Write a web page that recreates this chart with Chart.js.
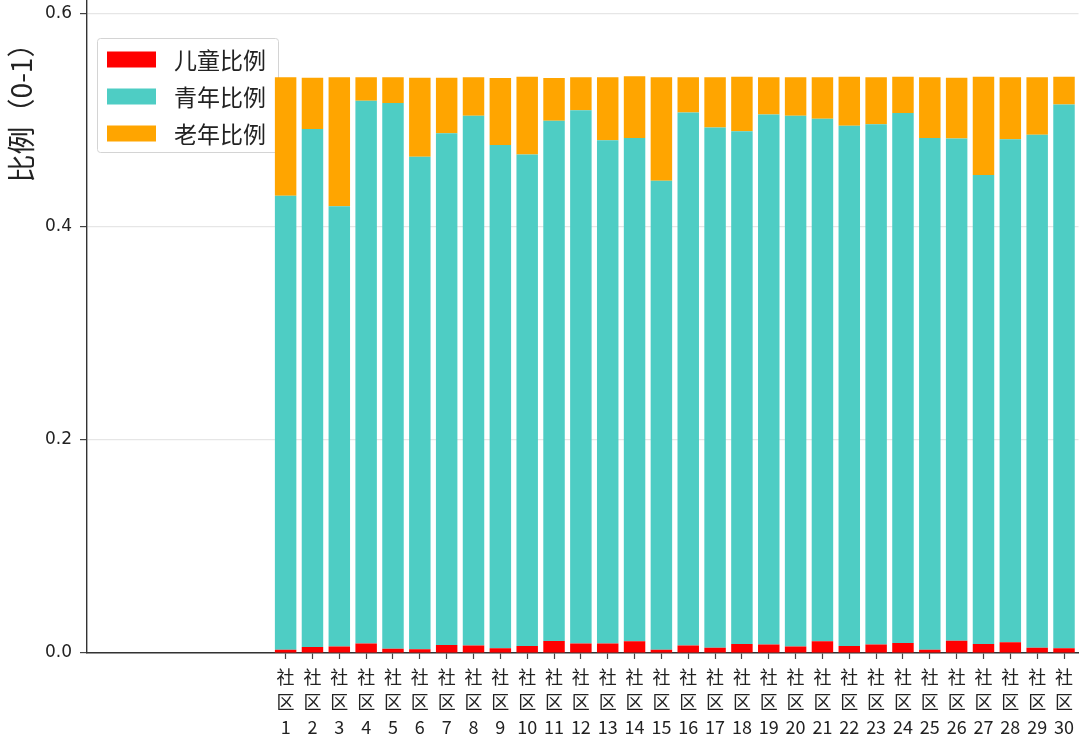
<!DOCTYPE html>
<html>
<head>
<meta charset="utf-8">
<script src="https://cdn.jsdelivr.net/npm/chart.js@4.4.1/dist/chart.umd.min.js"></script>
<style>
  html, body { margin: 0; padding: 0; background: #fff; }
  #wrap { width: 1080px; height: 742px; }
</style>
</head>
<body>
<div id="wrap"><canvas id="ratioChart" width="1080" height="742"></canvas></div>
<script>
const categories = ['社区1', '社区2', '社区3', '社区4', '社区5', '社区6', '社区7', '社区8', '社区9', '社区10',
  '社区11', '社区12', '社区13', '社区14', '社区15', '社区16', '社区17', '社区18', '社区19', '社区20',
  '社区21', '社区22', '社区23', '社区24', '社区25', '社区26', '社区27', '社区28', '社区29', '社区30'];

const childRatio = [0.003, 0.0056, 0.006, 0.009, 0.004, 0.0035, 0.0075, 0.007, 0.0044, 0.0066,
  0.0113, 0.009, 0.009, 0.011, 0.003, 0.007, 0.005, 0.0084, 0.008, 0.006,
  0.011, 0.0066, 0.008, 0.0094, 0.003, 0.0116, 0.0084, 0.010, 0.005, 0.0044];

const youthRatio = [0.426, 0.486, 0.413, 0.509, 0.512, 0.462, 0.480, 0.497, 0.472, 0.461,
  0.488, 0.500, 0.472, 0.472, 0.440, 0.500, 0.488, 0.481, 0.497, 0.498,
  0.490, 0.488, 0.488, 0.497, 0.480, 0.471, 0.440, 0.472, 0.481, 0.510];

const elderRatio = [0.111, 0.048, 0.121, 0.022, 0.024, 0.074, 0.052, 0.036, 0.063, 0.073,
  0.040, 0.031, 0.059, 0.058, 0.097, 0.033, 0.047, 0.051, 0.035, 0.036,
  0.039, 0.046, 0.044, 0.034, 0.057, 0.057, 0.092, 0.058, 0.054, 0.026];

const yTicks = [0, 0.2, 0.4, 0.6];
const yTitle = '比例（0-1）';

const colors = ['#ff0000', '#4ecdc4', '#ffa500'];

// bars sit on a numeric x axis so the empty stretch left of 社区1 is kept
function toPoints(values) {
  return values.map((v, i) => ({ x: i + 1, y: v }));
}

// legend box drawn inside the plot, under the bars
const boxLegend = {
  id: 'boxLegend',
  beforeDatasetsDraw(chart) {
    const ctx = chart.ctx;
    const x0 = 97, y0 = 38, w = 181, h = 114;
    ctx.save();
    ctx.fillStyle = 'rgba(255,255,255,0.85)';
    ctx.strokeStyle = '#d4d4d4';
    ctx.lineWidth = 1;
    ctx.beginPath();
    ctx.roundRect(x0 + 0.5, y0 + 0.5, w, h, 3);
    ctx.fill();
    ctx.stroke();
    ctx.font = '23px "Noto Sans CJK SC"';
    ctx.textBaseline = 'middle';
    chart.data.datasets.forEach((ds, i) => {
      const cy = 59.5 + i * 37;
      ctx.fillStyle = ds.backgroundColor;
      ctx.fillRect(107, cy - 8, 49, 16);
      ctx.fillStyle = '#222';
      ctx.fillText(ds.label, 174, cy + 1);
    });
    ctx.restore();
  },
  // y title sits high up next to the axis, not centred
  afterDraw(chart) {
    const ctx = chart.ctx;
    ctx.save();
    ctx.translate(21, 106);
    ctx.rotate(-Math.PI / 2);
    ctx.font = '28px "Noto Sans CJK SC"';
    ctx.fillStyle = '#222';
    ctx.textAlign = 'center';
    ctx.textBaseline = 'middle';
    ctx.fillText(yTitle, 0, 0);
    ctx.restore();
  }
};

const ctx = document.getElementById('ratioChart').getContext('2d');
window.ratioChart = new Chart(ctx, {
  type: 'bar',
  data: {
    datasets: [
      { label: '儿童比例', data: toPoints(childRatio), backgroundColor: colors[0] },
      { label: '青年比例', data: toPoints(youthRatio), backgroundColor: colors[1] },
      { label: '老年比例', data: toPoints(elderRatio), backgroundColor: colors[2] }
    ]
  },
  options: {
    responsive: false,
    animation: false,
    layout: { padding: { left: 43, right: 0, top: 0, bottom: 2 } },
    datasets: {
      bar: { barPercentage: 0.8, categoryPercentage: 1.0, borderWidth: 0 }
    },
    plugins: {
      legend: { display: false },
      tooltip: { enabled: false }
    },
    scales: {
      x: {
        type: 'linear',
        stacked: true,
        offset: false,
        min: -6.4,
        max: 30.54,
        afterBuildTicks: (axis) => {
          axis.ticks = categories.map((c, i) => ({ value: i + 1 }));
        },
        afterFit: (axis) => {
          axis.height = 87;
        },
        ticks: {
          autoSkip: false,
          maxRotation: 0,
          padding: 6,
          color: '#222',
          font: { family: '"Noto Sans CJK SC"', size: 18, lineHeight: 1.39 },
          callback: (value) => {
            const name = categories[value - 1];
            return name ? [name[0], name[1], name.slice(2)] : '';
          }
        },
        grid: {
          offset: false,
          drawOnChartArea: false,
          drawTicks: true,
          tickLength: 6,
          tickColor: '#444',
          tickWidth: 1.2
        },
        border: { color: '#333', width: 1.4 }
      },
      y: {
        stacked: true,
        min: 0,
        max: 0.6125,
        afterBuildTicks: (axis) => {
          axis.ticks = yTicks.map(v => ({ value: v }));
        },
        afterFit: (axis) => {
          axis.paddingTop = 0;
          axis.width = 44;
        },
        ticks: {
          padding: 8,
          color: '#222',
          font: { family: '"DejaVu Sans"', size: 17 },
          callback: (v) => Number(v).toFixed(1)
        },
        grid: {
          color: '#e6e6e6',
          lineWidth: 1.2,
          drawTicks: true,
          tickLength: 7,
          tickColor: '#444'
        },
        border: { color: '#333', width: 1.4 },
        title: { display: false }
      }
    }
  },
  plugins: [boxLegend]
});
</script>
</body>
</html>
